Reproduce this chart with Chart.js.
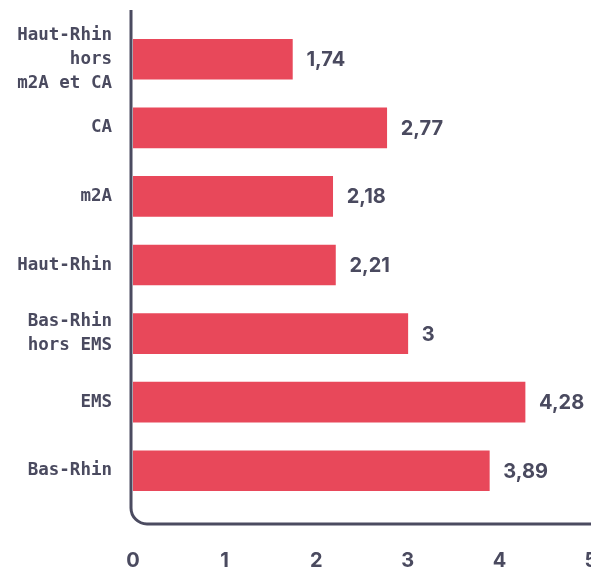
<!DOCTYPE html>
<html>
<head>
<meta charset="utf-8">
<script src="https://cdn.jsdelivr.net/npm/chart.js@4/dist/chart.umd.min.js"></script>
<style>
html,body{margin:0;padding:0;background:#fff;}
#wrap{width:591px;height:574px;position:relative;}
</style>
</head>
<body>
<div id="wrap"><canvas id="c" width="591" height="574"></canvas></div>
<script>
const categories = [
  ["Haut-Rhin", "hors", "m2A et CA"],
  ["CA"],
  ["m2A"],
  ["Haut-Rhin"],
  ["Bas-Rhin", "hors EMS"],
  ["EMS"],
  ["Bas-Rhin"]
];
const values = [1.74, 2.77, 2.18, 2.21, 3, 4.28, 3.89];
const valueLabels = ["1,74", "2,77", "2,18", "2,21", "3", "4,28", "3,89"];
const xTicks = [0, 1, 2, 3, 4, 5];

const TEXT = '#4a4a5f';
const BAR = '#e8485a';

const axisPlugin = {
  id: 'axisPlugin',
  afterDatasetsDraw(chart) {
    const ctx = chart.ctx;
    const area = chart.chartArea;
    const x0 = area.left - 2;
    const yb = 524;
    const r = 16;
    ctx.save();
    ctx.strokeStyle = '#4b4b60';
    ctx.lineWidth = 3;
    ctx.beginPath();
    ctx.moveTo(x0, 10);
    ctx.lineTo(x0, yb - r);
    ctx.arcTo(x0, yb, x0 + r, yb, r);
    ctx.lineTo(chart.width + 2, yb);
    ctx.stroke();

    const meta = chart.getDatasetMeta(0);
    ctx.fillStyle = TEXT;
    ctx.font = 'bold 20px Inter';
    ctx.textAlign = 'left';
    ctx.textBaseline = 'middle';
    meta.data.forEach((bar, i) => {
      ctx.fillText(valueLabels[i], bar.x + 14, bar.y + 1);
    });
    ctx.restore();
  }
};

new Chart(document.getElementById('c'), {
  type: 'bar',
  data: {
    labels: categories,
    datasets: [{
      data: values,
      backgroundColor: BAR,
      borderWidth: 0,
      barThickness: 40
    }]
  },
  options: {
    indexAxis: 'y',
    responsive: false,
    animation: false,
    layout: { padding: { top: 25, right: 0, left: 0, bottom: 0 } },
    plugins: { legend: { display: false }, tooltip: { enabled: false } },
    scales: {
      x: {
        type: 'linear',
        min: 0,
        max: 5,
        afterBuildTicks(scale) { scale.ticks = xTicks.map(v => ({ value: v })); },
        afterFit(scale) { scale.height = 69; scale.paddingLeft = 0; scale.paddingRight = 0; },
        grid: { display: false, drawTicks: false },
        border: { display: false },
        ticks: {
          color: TEXT,
          font: { family: 'Inter', weight: 'bold', size: 20 },
          padding: 44,
          maxRotation: 0,
          autoSkip: false
        }
      },
      y: {
        afterFit(scale) { scale.width = 133; scale.paddingTop = 0; scale.paddingBottom = 0; },
        grid: { display: false, drawTicks: false },
        border: { display: false },
        ticks: {
          color: TEXT,
          font: { family: 'DejaVu Sans Mono', weight: 'bold', size: 17.5, lineHeight: 1.38 },
          padding: 21,
          autoSkip: false
        }
      }
    }
  },
  plugins: [axisPlugin]
});
</script>
</body>
</html>
